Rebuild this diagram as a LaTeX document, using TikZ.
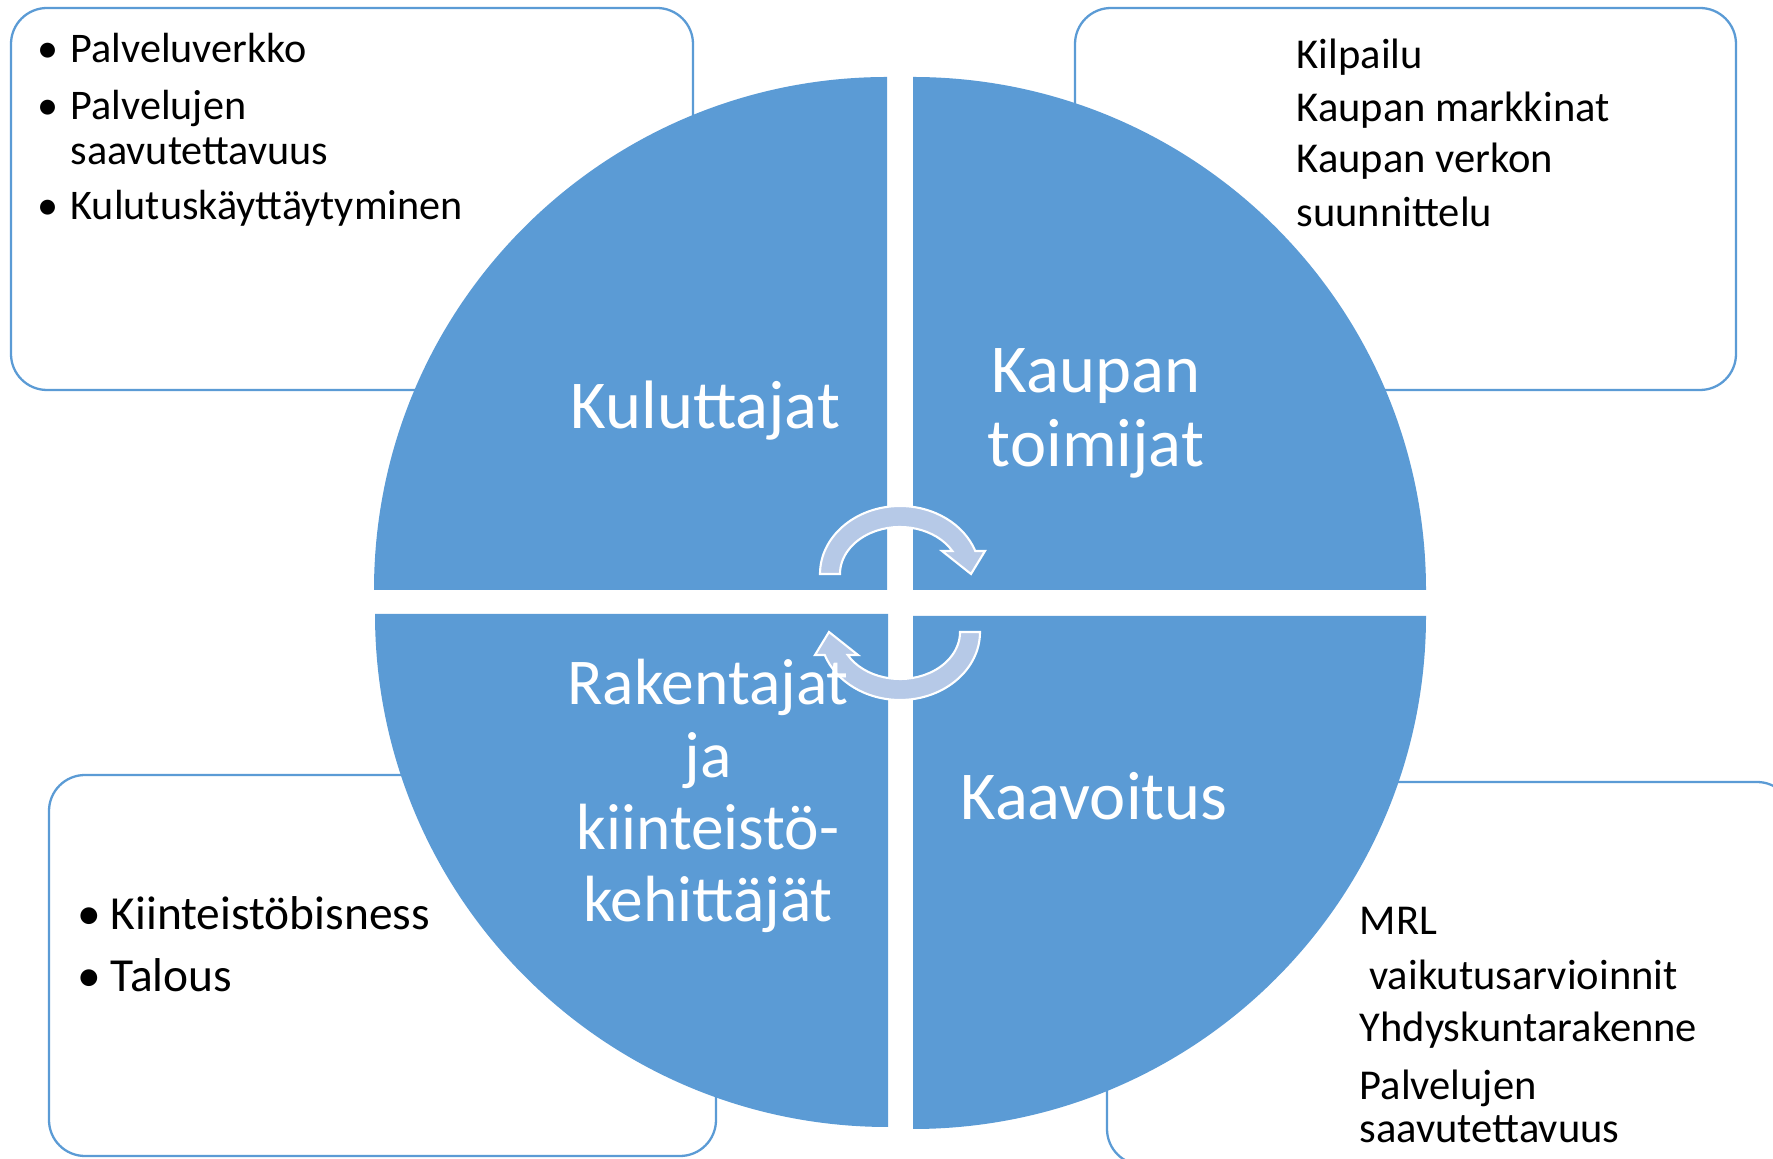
\documentclass[tikz,border=0pt]{standalone}
\usepackage{fontspec}
\setmainfont{Carlito}
\definecolor{quadblue}{HTML}{5B9BD5}
\definecolor{arrowblue}{RGB}{182,201,231}
\newcommand\bul{\llap{\makebox[3.3mm][l]{\textbullet}}}

\begin{document}
\begin{tikzpicture}[x=0.1mm, y=0.1mm,
		quarter/.style={fill=quadblue},
		info box/.style={draw=quadblue, line width=0.65pt, fill=white, rounded corners=3.6mm},
		big label/.style={anchor=base, inner sep=0pt, text=white, font=\fontsize{19.5pt}{20.6pt}\selectfont},
		rak label/.style={big label, font=\fontsize{18.6pt}{20pt}\selectfont},
		info text/.style={anchor=base west, inner sep=0pt},
		turn arrow/.pic={
			\draw[fill=arrowblue, draw=white, line width=0.6pt] (-80,29)
				arc[start angle=180, end angle=19.8, x radius=80, y radius=68]
				-- (85,52) -- (71,29) -- (42,52) -- (52.3,52)
				arc[start angle=29.3, end angle=180, x radius=60, y radius=47] -- cycle;
		}]

			\useasboundingbox (0,0) rectangle (1773,1159);
			\clip (0,0) rectangle (1773,1159);

			% boxes behind the circle
			\draw[info box] (11,769) rectangle (693,1151);
			\draw[info box] (1075,769) rectangle (1736,1151);
			\draw[info box] (49,3) rectangle (716,384);
			\draw[info box] (1107,-6) rectangle (1793,377);

			% the four quarters
			\fill[quarter] (887,569) -- ++(-513,0) arc[start angle=180, end angle=90, radius=513] -- cycle;
			\fill[quarter] (913,569) -- ++(513,0) arc[start angle=0, end angle=90, radius=513] -- cycle;
			\fill[quarter] (888,545) -- ++(-513,0) arc[start angle=180, end angle=270, radius=513] -- cycle;
			\fill[quarter] (913,543) -- ++(513,0) arc[start angle=0, end angle=-90, radius=513] -- cycle;

			\pic at (900,556) {turn arrow};
			\pic[rotate=180] at (900,556) {turn arrow};

			\node[big label] (1) at (705.5,730.7) {Kuluttajat};
			\node[big label] (2a) at (1096,766) {Kaupan};
			\node[big label] (2b) at (1096,692.3) {toimijat};
			\node[rak label] (3a) at (708,454) {Rakentajat};
			\node[rak label] (3b) at (708,381) {ja};
			\node[rak label] (3c) at (708,309) {kiinteistö-};
			\node[rak label] (3d) at (708,237.3) {kehittäjät};
			\node[big label] (4) at (1094,339.7) {Kaavoitus};

			% top left
			\begin{scope}[font=\fontsize{12pt}{13.5pt}\selectfont]
			\node[info text] (1a) at (70,1096) {\bul Palveluverkko};
			\node[info text] (1b) at (70,1039) {\bul Palvelujen};
			\node[info text] (1c) at (70,994) {saavutettavuus};
			\node[info text] (1d) at (70,939) {\bul Kulutuskäyttäytyminen};
			\end{scope}

			% top right
			\begin{scope}[font=\fontsize{12.1pt}{13.5pt}\selectfont]
			\node[info text] (2c) at (1296,1090) {Kilpailu};
			\node[info text] (2d) at (1296,1037.3) {Kaupan markkinat};
			\node[info text] (2e) at (1296,986) {Kaupan verkon};
			\node[info text] (2f) at (1296,932.3) {suunnittelu};
			\end{scope}

			% bottom left
			\begin{scope}[font=\fontsize{13.5pt}{15pt}\selectfont]
			\node[info text] (3e) at (110,229) {\bul Kiinteistöbisness};
			\node[info text] (3f) at (110,167.3) {\bul Talous};
			\end{scope}

			% bottom right
			\begin{scope}[font=\fontsize{12.1pt}{14pt}\selectfont]
			\node[info text] (4a) at (1359,224) {MRL};
			\node[info text] (4b) at (1359,169) {\ vaikutusarvioinnit};
			\node[info text] (4c) at (1359,117.3) {Yhdyskuntarakenne};
			\node[info text] (4d) at (1359,59) {Palvelujen};
			\node[info text] (4e) at (1359,16) {saavutettavuus};
			\end{scope}

		\end{tikzpicture}
\end{document}
